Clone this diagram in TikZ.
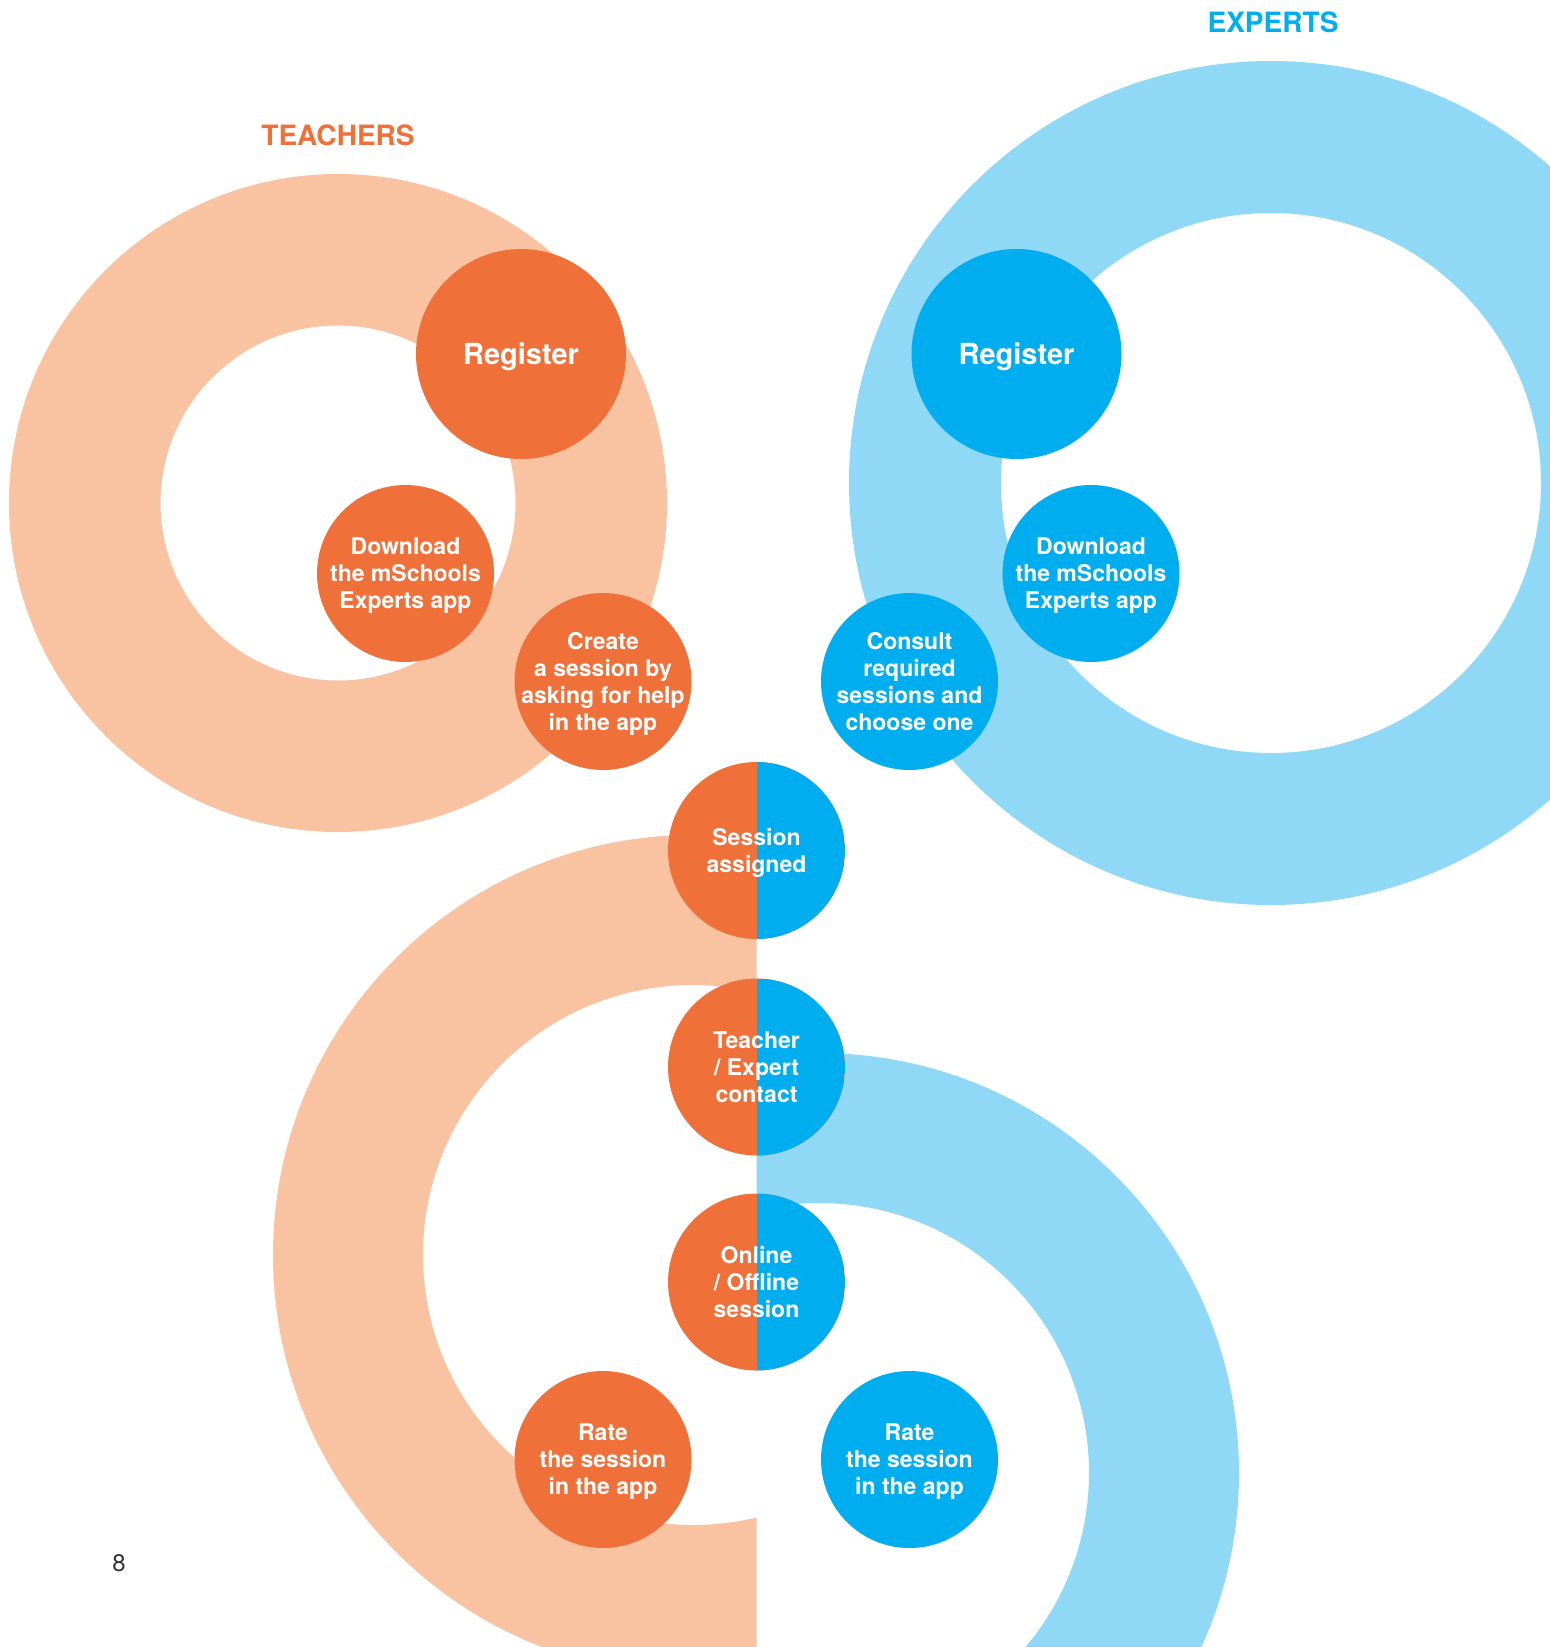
\documentclass[tikz,border=0pt]{standalone}
\usepackage{fontspec}
\setmainfont{TeX Gyre Heros}
\usepackage{tikz}

\definecolor{tred}{RGB}{240,112,58}
\definecolor{tlight}{RGB}{249,195,162}
\definecolor{eblue}{RGB}{0,174,239}
\definecolor{elight}{RGB}{143,216,246}

\tikzset{
	stepfont/.style={font=\fontsize{23}{27}\selectfont\bfseries},
	smallcirc/.style={circle, minimum size=177pt, inner sep=-20pt, text depth=0pt, text=white, align=center, stepfont},
	bigcirc/.style={circle, minimum size=210pt, inner sep=0pt, text depth=0pt, text=white, font=\fontsize{29}{32}\selectfont\bfseries},
	splitcirc/.style={smallcirc, fill=tred, path picture={\fill[eblue] (path picture bounding box.north) rectangle (path picture bounding box.south east);}},
	headfont/.style={font=\fontsize{28}{30}\selectfont\bfseries}
}

\begin{document}
\begin{tikzpicture}[x=1pt, y=-1pt]
	\useasboundingbox (0,0) rectangle (1550,1647);
	\clip (0,0) rectangle (1550,1647);

	\fill[tlight, even odd rule] (338,503) circle[radius=329pt] (338,503) circle[radius=177.5pt];
	\fill[elight, even odd rule] (1271,483) circle[radius=422pt] (1271,483) circle[radius=270pt];
	\begin{scope}
		\clip (0,0) rectangle (756.5,1647);
		\fill[tlight, even odd rule] (693,1255) circle[radius=420pt] (693,1255) circle[radius=270pt];
	\end{scope}
	\begin{scope}
		\clip (756.5,0) rectangle (1550,1647);
		\fill[elight, even odd rule] (819,1473) circle[radius=420pt] (819,1473) circle[radius=270pt];
	\end{scope}

	\node[headfont, text=tred] (teachers) at (338,135.5) {TEACHERS};
	\node[headfont, text=eblue] (experts) at (1273,22) {EXPERTS};

	\node[bigcirc, fill=tred] (tregister) at (521,354) {Register};
	\node[smallcirc, fill=tred] (tdownload) at (405.5,573.5) {Download\\the mSchools\\Experts app};
	\node[smallcirc, fill=tred] (tcreate) at (603,681.5) {Create\\a session by\\asking for help\\in the app};

	\node[bigcirc, fill=eblue] (eregister) at (1016.5,354) {Register};
	\node[smallcirc, fill=eblue] (edownload) at (1091,573.5) {Download\\the mSchools\\Experts app};
	\node[smallcirc, fill=eblue] (econsult) at (909.5,681.5) {Consult\\required\\sessions and\\choose one};

	\node[splitcirc] (assigned) at (756.5,850.5) {Session\\assigned};
	\node[splitcirc] (contact) at (756.5,1067) {Teacher\\/ Expert\\contact};
	\node[splitcirc] (online) at (756.5,1282) {Online\\/ Offline\\session};

	\node[smallcirc, fill=tred] (trate) at (603,1459.5) {Rate\\the session\\in the app};
	\node[smallcirc, fill=eblue] (erate) at (909.5,1459.5) {Rate\\the session\\in the app};

	\node[text=black!80, font=\fontsize{24}{26}\selectfont] (page) at (119,1563) {8};
\end{tikzpicture}
\end{document}
